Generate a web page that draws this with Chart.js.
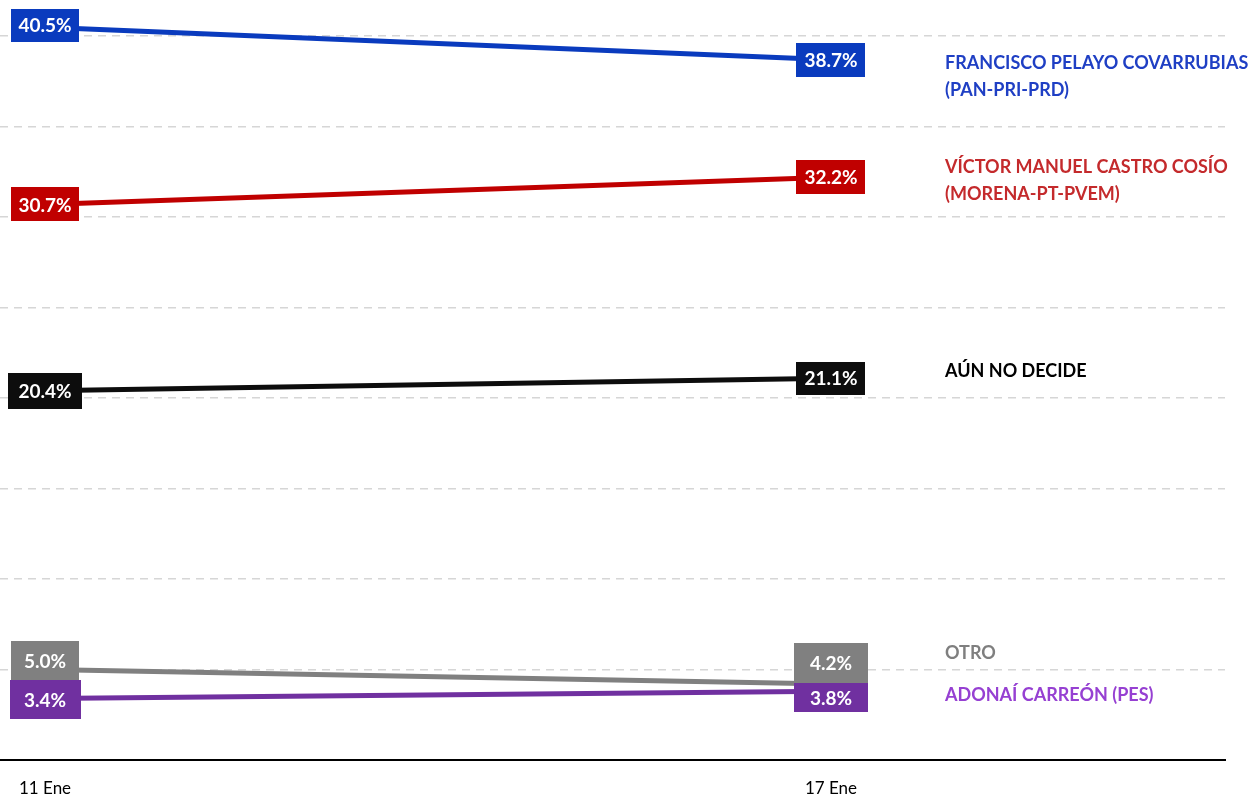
<!DOCTYPE html>
<html><head><meta charset="utf-8">
<script src="https://cdn.jsdelivr.net/npm/chart.js@4.4.1/dist/chart.umd.min.js"></script>
<style>html,body{margin:0;padding:0;background:#fff}canvas{display:block}</style>
</head><body><canvas id="c" width="1258" height="798" style="width:1258px;height:798px"></canvas>
<script>
// ---- data ----
const dates = ['11 Ene', '17 Ene'];
const names = [
  ['FRANCISCO PELAYO COVARRUBIAS', '(PAN-PRI-PRD)'],
  ['VÍCTOR MANUEL CASTRO COSÍO', '(MORENA-PT-PVEM)'],
  ['AÚN NO DECIDE'],
  ['OTRO'],
  ['ADONAÍ CARREÓN (PES)']
];
const pelayo = [40.5, 38.7];
const castro = [30.7, 32.2];
const noDecide = [20.4, 21.1];
const otro = [5.0, 4.2];
const carreon = [3.4, 3.8];
const yTicks = [0, 5, 10, 15, 20, 25, 30, 35, 40];

// ---- styles ----
const lineColors = ['#0A3BBE', '#C00000', '#0D0D0D', '#808080', '#7030A0'];
const nameColors = ['#1F3FC4', '#C42A2C', '#000000', '#7F7F7F', '#9640D2'];
// per point label boxes: [dy, w, h]
const boxLayout = [
  [[-2, 68, 33], [0, 69, 34]],
  [[0, 68, 34], [0, 69, 34]],
  [[0, 74, 36], [0, 69, 33]],
  [[-9, 68, 39], [-21, 74, 40]],
  [[1, 71, 39], [6.5, 74, 29]]
];
// name label offsets relative to last point y
const nameOffsets = [3, -10, -7, -31, 4];

const series = [pelayo, castro, noDecide, otro, carreon];

const labelPlugin = {
  id: 'boxLabels',
  afterDatasetsDraw(chart) {
    const ctx = chart.ctx;
    ctx.save();
    chart.data.datasets.forEach((ds, di) => {
      const meta = chart.getDatasetMeta(di);
      meta.data.forEach((pt, i) => {
        const [dy, w, h] = boxLayout[di][i];
        const cx = pt.x, cy = pt.y + dy;
        ctx.fillStyle = lineColors[di];
        ctx.fillRect(Math.round(cx - w / 2), Math.round(cy - h / 2), w, h);
        ctx.fillStyle = '#fff';
        ctx.font = 'bold 19px Lato';
        ctx.textAlign = 'center';
        ctx.textBaseline = 'middle';
        ctx.fillText(ds.data[i].y.toFixed(1) + '%', cx, cy + 1);
      });
      const last = meta.data[meta.data.length - 1];
      ctx.fillStyle = nameColors[di];
      ctx.font = 'bold 18px Lato';
      ctx.textAlign = 'left';
      ctx.textBaseline = 'middle';
      names[di].forEach((t, li) => {
        ctx.fillText(t, 945, last.y + nameOffsets[di] + li * 27);
      });
    });
    ctx.restore();
  }
};

new Chart(document.getElementById('c'), {
  type: 'line',
  data: {
    datasets: series.map((s, di) => ({
      label: names[di].join(' '),
      data: s.map((v, i) => ({ x: i, y: v })),
      borderColor: lineColors[di],
      backgroundColor: lineColors[di],
      borderWidth: 5,
      pointRadius: 0,
      tension: 0
    }))
  },
  options: {
    responsive: false,
    animation: false,
    devicePixelRatio: 1,
    layout: { padding: { left: 0, right: 33, top: 0, bottom: 0 } },
    plugins: { legend: { display: false }, tooltip: { enabled: false } },
    scales: {
      x: {
        type: 'linear',
        min: -0.0573,
        max: 1.5013,
        afterBuildTicks: (scale) => { scale.ticks = dates.map((d, i) => ({ value: i })); },
        afterFit: (scale) => { scale.height = 38; },
        ticks: {
          callback: (v) => dates[v],
          font: { family: 'Lato', size: 17 },
          color: '#000',
          padding: 18,
          maxRotation: 0,
          autoSkip: false
        },
        grid: { display: false, drawTicks: false },
        border: { display: true, color: '#000', width: 2 }
      },
      y: {
        min: 0,
        max: 42,
        afterBuildTicks: (scale) => { scale.ticks = yTicks.map(v => ({ value: v })); },
        afterFit: (scale) => { scale.width = 0; },
        ticks: { display: false },
        grid: {
          drawTicks: false,
          color: (c) => c.tick && c.tick.value === 0 ? 'rgba(0,0,0,0)' : '#D6D6D6',
          lineWidth: 1.5
        },
        border: { display: false, dash: [8, 6] }
      }
    }
  },
  plugins: [labelPlugin]
});
</script>
</body></html>
